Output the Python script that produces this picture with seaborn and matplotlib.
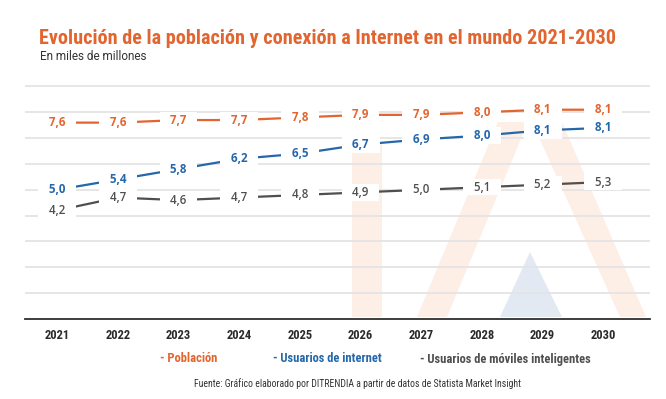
"""
Evolución de la población y conexión a Internet en el mundo 2021-2030.
Recreated as a seaborn line chart with inline value labels.
"""

import matplotlib
matplotlib.use("Agg")
import matplotlib.pyplot as plt
from matplotlib.patches import Polygon
from matplotlib import font_manager
import pandas as pd
import seaborn as sns

# ------------------------------------------------------------------ data
years = [2021, 2022, 2023, 2024, 2025, 2026, 2027, 2028, 2029, 2030]
poblacion = [7.6, 7.6, 7.7, 7.7, 7.8, 7.9, 7.9, 8.0, 8.1, 8.1]
# line heights as drawn in the picture; the printed labels differ at the end
internet = [5.0, 5.4, 5.8, 6.2, 6.4, 6.75, 6.95, 7.1, 7.3, 7.4]
internet_labels = ["5,0", "5,4", "5,8", "6,2", "6,5", "6,7", "6,9", "8,0", "8,1", "8,1"]
moviles = [4.2, 4.7, 4.6, 4.7, 4.8, 4.9, 5.0, 5.1, 5.2, 5.3]

series_names = ["Población", "Usuarios de internet", "Usuarios de móviles inteligentes"]
colors = {"Población": "#E2652F",
          "Usuarios de internet": "#2467AA",
          "Usuarios de móviles inteligentes": "#4F4F4F"}

W, H = 666, 399

sns.set_theme(style="white")
installed = {f.name for f in font_manager.fontManager.ttflist}
COND = next((f for f in ["Roboto Condensed", "Barlow Condensed", "Archivo Narrow",
                         "Asap Condensed", "Liberation Sans Narrow"] if f in installed),
            "Roboto")
plt.rcParams["font.family"] = ["Roboto", "DejaVu Sans"]


def px(x, y):
    """pixel position (from top-left) -> figure fraction"""
    return x / W, 1 - y / H


df = pd.DataFrame({
    "year": years * 3,
    "value": poblacion + internet + moviles,
    "serie": sum([[n] * len(years) for n in series_names], []),
})

fig = plt.figure(figsize=(W / 100, H / 100), dpi=100)

# faint logo watermark behind the plot
wm_orange, wm_blue = "#FDEEE6", "#E2E9F2"
wm = [
    ([(352, 143), (382, 143), (382, 317), (352, 317)], wm_orange),
    ([(417, 317), (447, 317), (528, 122), (498, 122)], wm_orange),
    ([(532, 122), (562, 122), (646, 317), (620, 317)], wm_orange),
    ([(498, 122), (562, 122), (556, 134), (503, 134)], wm_orange),
    ([(530, 252), (562, 317), (500, 317)], wm_blue),
]
for pts, c in wm:
    fig.patches.append(Polygon([px(*p) for p in pts], closed=True,
                               transform=fig.transFigure, facecolor=c,
                               edgecolor="none", zorder=-1))

l, b = px(25, 319)
r, t = px(650, 80)
ax = fig.add_axes([l, b, r - l, t - b])
ax.patch.set_alpha(0)

sns.lineplot(data=df, x="year", y="value", hue="serie", palette=colors,
             linewidth=1.6, legend=False, ax=ax, zorder=2)

label_sets = [
    (poblacion, [f"{v:.1f}".replace(".", ",") for v in poblacion], colors["Población"], "bold"),
    (internet, internet_labels, colors["Usuarios de internet"], "bold"),
    (moviles, [f"{v:.1f}".replace(".", ",") for v in moviles],
     colors["Usuarios de móviles inteligentes"], "semibold"),
]
for vals, labs, c, w in label_sets:
    for x, v, s in zip(years, vals, labs):
        # spaces widen the white mask sideways so the line breaks around the label
        ax.text(x, v, f"   {s}   ", ha="center", va="center", fontsize=8.3, color=c,
                fontweight=w, family=["Open Sans", "DejaVu Sans"], zorder=4,
                bbox=dict(boxstyle="square,pad=0.15", fc="white", ec="none"))

ax.set_xlim(2020.47, 2030.77)
ax.set_ylim(0, 9.25)
ax.set_yticks(range(1, 10))
ax.yaxis.grid(True, color="#E4E4E4", linewidth=1.3)
ax.set_axisbelow(True)
ax.tick_params(axis="y", left=False, labelleft=False)
ax.set_xticks(years)
ax.set_xticklabels([str(y) for y in years], fontsize=9, fontweight="bold",
                   color="#2B2B2B", family=[COND, "DejaVu Sans"])
ax.tick_params(axis="x", length=0, pad=7)
ax.set_xlabel("")
ax.set_ylabel("")
for s in ["top", "right", "left"]:
    ax.spines[s].set_visible(False)
ax.spines["bottom"].set_color("#2E2E2E")
ax.spines["bottom"].set_linewidth(1.3)

# titles
fig.text(*px(39, 38), "Evolución de la población y conexión a Internet en el mundo 2021-2030",
         ha="left", va="center", fontsize=14.5, fontweight="bold", color="#E2652F",
         family=[COND, "DejaVu Sans"])
fig.text(*px(40, 57), "En miles de millones", ha="left", va="center",
         fontsize=8.5, color="#333333")

# legend as coloured text
for x0, name in zip([160, 273, 420], series_names):
    fig.text(*px(x0, 359), f"- {name}", ha="left", va="center", fontsize=9,
             fontweight="bold", color=colors[name], family=[COND, "DejaVu Sans"])

fig.text(*px(357, 384),
         "Fuente: Gráfico elaborado por DITRENDIA a partir de datos de Statista Market Insight",
         ha="center", va="center", fontsize=7, color="#333333",
         family=[COND, "DejaVu Sans"])

fig.savefig("out.png", dpi=100)
